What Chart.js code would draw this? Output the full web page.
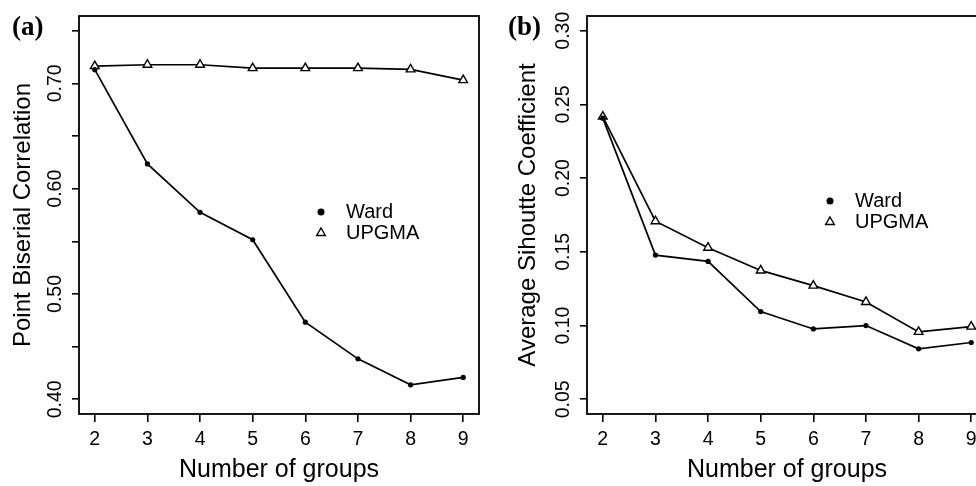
<!DOCTYPE html>
<html>
<head>
<meta charset="utf-8">
<script src="https://cdn.jsdelivr.net/npm/chart.js@4"></script>
<style>
  html, body { margin: 0; padding: 0; background: #fff; overflow: hidden; }
  #wrap { position: relative; width: 976px; height: 486px; overflow: hidden; }
  #chartA { position: absolute; left: 0; top: 0; }
  #chartB { position: absolute; left: 488px; top: 0; }
</style>
</head>
<body>
<div id="wrap">
  <canvas id="chartA" width="488" height="486"></canvas>
  <canvas id="chartB" width="512" height="486"></canvas>
</div>
<script>
const groups = [2, 3, 4, 5, 6, 7, 8, 9];

// (a) point biserial correlation
const wardA  = [0.713, 0.6235, 0.5775, 0.5515, 0.4732, 0.4384, 0.4137, 0.4207];
const upgmaA = [0.7164, 0.7177, 0.7177, 0.7145, 0.7145, 0.7145, 0.7133, 0.7031];
const yTicksA = [0.40, 0.45, 0.50, 0.55, 0.60, 0.65, 0.70, 0.75];
const yLabelsA = ['0.40', '0.50', '0.60', '0.70'];

// (b) average silhouette coefficient
const wardB  = [0.2407, 0.1478, 0.1435, 0.1095, 0.0977, 0.1000, 0.0842, 0.0885];
const upgmaB = [0.2418, 0.1708, 0.1528, 0.1374, 0.1271, 0.1160, 0.0957, 0.0993];
const yTicksB = [0.05, 0.10, 0.15, 0.20, 0.25, 0.30];
const yLabelsB = ['0.05', '0.10', '0.15', '0.20', '0.25', '0.30'];

const SANS = '"Liberation Sans", Arial, sans-serif';
Chart.defaults.font.family = SANS;
Chart.defaults.color = '#000';

function marker(ctx, style, x, y, r) {
  ctx.beginPath();
  if (style === 'triangle') {
    ctx.moveTo(x, y - r);
    ctx.lineTo(x + r * 0.866, y + r * 0.5);
    ctx.lineTo(x - r * 0.866, y + r * 0.5);
    ctx.closePath();
    ctx.fillStyle = '#fff';
    ctx.fill();
    ctx.lineWidth = 1.4;
    ctx.stroke();
  } else {
    ctx.arc(x, y, r, 0, Math.PI * 2);
    ctx.fillStyle = '#000';
    ctx.fill();
  }
}

// box, rotated y labels, panel tag and legend
const panelDecor = {
  id: 'panelDecor',
  afterDatasetsDraw(chart, args, opts) {
    const {ctx, chartArea: a, scales} = chart;
    ctx.save();
    ctx.strokeStyle = '#000';
    ctx.lineWidth = 1.8;
    ctx.strokeRect(a.left, a.top, a.right - a.left, a.bottom - a.top);

    ctx.fillStyle = '#000';
    ctx.font = '19.5px ' + SANS;
    ctx.textAlign = 'center';
    ctx.textBaseline = 'middle';
    opts.yLabels.forEach(t => {
      const y = scales.y.getPixelForValue(parseFloat(t));
      ctx.save();
      ctx.translate(a.left - 23, y);
      ctx.rotate(-Math.PI / 2);
      ctx.fillText(t, 0, 0);
      ctx.restore();
    });

    ctx.font = 'bold 27px "Liberation Serif", "Times New Roman", serif';
    ctx.textAlign = 'left';
    ctx.fillText(opts.tag, opts.tagX, 28);

    ctx.font = '20px ' + SANS;
    chart.data.datasets.forEach((ds, i) => {
      const x = a.left + opts.legendX;
      const y = a.top + opts.legendY[i];
      ctx.strokeStyle = '#000';
      marker(ctx, ds.pointStyle, x, y, ds.pointStyle === 'triangle' ? 5 : 3.5);
      ctx.fillStyle = '#000';
      ctx.fillText(ds.label, x + 25, y);
    });
    ctx.restore();
  }
};

function makeChart(id, ward, upgma, yMin, yMax, yTicks, yTitle, yWidth, titlePad, padRight, decor) {
  const pts = arr => groups.map((g, i) => ({x: g, y: arr[i]}));
  return new Chart(document.getElementById(id), {
    type: 'line',
    data: {
      datasets: [
        {
          label: 'Ward', data: pts(ward),
          borderColor: '#000', borderWidth: 1.7, tension: 0,
          pointStyle: 'circle', pointRadius: 2.6,
          pointBackgroundColor: '#000', pointBorderColor: '#000', pointBorderWidth: 0
        },
        {
          label: 'UPGMA', data: pts(upgma),
          borderColor: '#000', borderWidth: 1.7, tension: 0,
          pointStyle: 'triangle', pointRadius: 5,
          pointBackgroundColor: '#fff', pointBorderColor: '#000', pointBorderWidth: 1.4
        }
      ]
    },
    options: {
      responsive: false,
      animation: false,
      events: [],
      layout: {padding: {top: 16, right: padRight, bottom: 0, left: 0}},
      plugins: {
        legend: {display: false},
        tooltip: {enabled: false},
        panelDecor: decor
      },
      scales: {
        x: {
          type: 'linear', min: 1.7, max: 9.3,
          afterBuildTicks: s => { s.ticks = groups.map(v => ({value: v})); },
          afterFit: s => { s.height = 72; },
          ticks: {font: {size: 19.5}, padding: 6, maxRotation: 0, autoSkip: false},
          grid: {drawOnChartArea: false, drawTicks: true, tickLength: 8, color: '#000', lineWidth: 1.6},
          border: {display: false},
          title: {display: true, text: 'Number of groups', font: {size: 25}, padding: {top: 0, bottom: 1}}
        },
        y: {
          type: 'linear', min: yMin, max: yMax,
          afterBuildTicks: s => { s.ticks = yTicks.map(v => ({value: v})); },
          afterFit: s => { s.width = yWidth; },
          ticks: {display: false},
          grid: {drawOnChartArea: false, drawTicks: true, tickLength: 7, color: '#000', lineWidth: 1.6},
          border: {display: false},
          title: {display: true, text: yTitle, font: {size: 24}, padding: {top: titlePad, bottom: 0}}
        }
      }
    },
    plugins: [panelDecor]
  });
}

makeChart('chartA', wardA, upgmaA, 0.386, 0.764, yTicksA,
  'Point Biserial Correlation', 79, 9, 9,
  {yLabels: yLabelsA, tag: '(a)', tagX: 12, legendX: 242, legendY: [196, 217]});

makeChart('chartB', wardB, upgmaB, 0.04, 0.31, yTicksB,
  'Average Sihoutte Coefficient', 99, 25.6, 13,
  {yLabels: yLabelsB, tag: '(b)', tagX: 20, legendX: 243, legendY: [185, 206]});
</script>
</body>
</html>
